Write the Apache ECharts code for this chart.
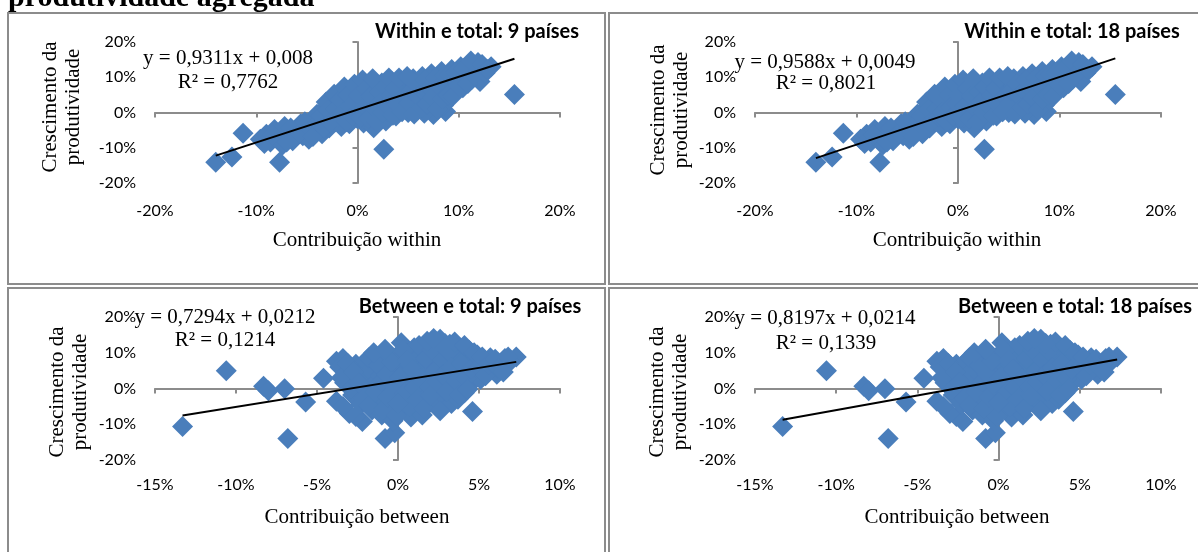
<!DOCTYPE html>
<html>
<head>
<meta charset="utf-8">
<title>Crescimento da produtividade agregada</title>
<script src="https://cdn.jsdelivr.net/npm/echarts@6.0.0/dist/echarts.min.js"></script>
<style>
  html, body { margin: 0; padding: 0; background: #ffffff; }
  #chart { width: 1198px; height: 552px; }
</style>
</head>
<body>
<div id="chart"></div>
<script>
// Country-sector observations, in percent: [contribution, productivity growth]
const within9 = [
  [-14.0,-14.1], [-12.4,-12.6], [-11.3,-5.9], [-7.7,-14.1], [2.6,-10.4], [15.5,5.1], [8.7,0.3], [7.5,-0.6],
  [-9.6,-7.6], [-9.0,-6.2], [-8.6,-8.4], [-8.2,-4.8], [-7.8,-7.0], [-7.4,-9.2], [-7.2,-4.0], [-6.8,-6.2], [-6.4,-8.0], [-6.0,-5.2],
  [-5.6,-3.2], [-5.4,-6.6], [-5.0,-4.4], [-4.8,-7.6], [-4.5,-2.2], [-4.2,-5.4], [-4.0,-0.5], [-3.7,-3.4], [-3.5,-6.0], [-3.2,1.2], [-3.0,-1.8],
  [-2.8,-4.4], [-2.6,2.8], [-2.4,0.2], [-2.2,-2.6], [-2.0,4.6], [-1.8,1.6], [-1.6,-4.0], [-1.4,5.6], [-1.2,-1.0], [-1.0,3.2], [-0.8,-3.2], [-0.6,6.6], [-0.4,1.0], [-0.2,4.4], [0.0,-1.8],
  [0.2,7.4], [0.4,2.6], [0.6,-3.0], [0.8,5.2], [1.0,0.4], [1.2,8.0], [1.4,3.2], [1.6,-4.3], [1.8,6.2], [2.0,-1.0], [2.2,1.6], [2.4,8.4], [2.6,4.4], [2.8,-2.4],
  [3.0,6.6], [3.2,1.0], [3.4,8.8], [3.6,3.4], [3.8,-1.0], [4.0,5.6], [4.3,9.0], [4.5,2.2], [4.8,7.0], [5.0,0.0], [5.2,4.4], [5.5,9.6], [5.7,1.2], [5.9,6.6],
  [6.2,3.4], [6.4,10.2], [6.6,-0.2], [6.8,7.8], [7.0,4.8], [7.3,11.0], [7.6,2.4], [7.8,8.6], [8.0,5.6], [8.3,11.6], [8.5,2.0], [8.8,9.0],
  [9.0,6.4], [9.3,12.2], [9.6,8.0], [9.9,10.6], [10.2,13.0], [10.4,7.0], [10.7,11.0], [11.0,13.6], [11.3,9.4], [11.6,12.2], [11.9,14.2], [12.1,8.8], [12.6,11.2], [13.2,13.0],
  [-9.2,-8.8], [-8.4,-6.4], [-7.0,-8.4], [-6.6,-4.4], [-6.2,-7.0], [-5.8,-5.8], [-5.2,-2.6], [-4.6,-4.8], [-4.4,-6.8], [-3.9,-2.6],
  [-3.6,-1.0], [-3.3,-4.4], [-3.1,3.0], [-2.9,0.8], [-2.7,-2.8], [-2.3,5.2], [-2.1,1.0], [-1.9,-1.2], [-1.7,3.6], [-1.5,0.0],
  [-1.3,7.2], [-1.1,-2.6], [-0.9,5.0], [-0.7,1.6], [-0.5,-1.0], [-0.3,8.0], [-0.1,2.4], [0.1,4.8], [0.3,-1.4], [0.5,9.2],
  [0.7,1.8], [0.9,6.8], [1.1,-1.8], [1.3,4.6], [1.5,9.6], [1.7,1.2], [1.9,-2.6], [2.1,5.8], [2.3,3.0], [2.5,0.0],
  [2.7,7.2], [2.9,2.2], [3.1,9.8], [3.3,4.8], [3.5,-0.8], [3.7,6.8], [3.9,2.4], [4.1,9.8], [4.4,0.2], [4.6,4.6],
  [4.9,10.2], [5.1,2.6], [5.3,6.2], [5.6,-0.4], [5.8,8.0], [6.0,4.6], [6.3,1.4], [6.5,6.0], [6.7,9.2], [6.9,2.4],
  [7.1,7.0], [7.4,4.2], [7.7,9.8], [7.9,0.8], [8.1,7.4], [8.4,3.8], [8.6,10.4], [8.9,5.0], [9.1,10.8], [9.4,4.6],
  [9.7,11.4], [10.0,7.6], [10.5,12.4], [10.9,8.2], [11.2,14.6], [11.5,10.6], [12.3,13.6], [12.8,12.2]
];
// The 18-country sample lands on the same positions at this scale
const within18 = within9.slice();

const between9 = [
  [-13.3,-10.6], [-10.6,5.0], [-8.3,0.6], [-8.0,-0.6], [-7.0,-0.1], [-6.8,-14.0], [-5.7,-3.8], [-4.6,2.9], [4.6,-6.4], [7.3,8.8],
  [-0.8,-14.0], [-0.2,-12.4], [-2.2,-9.2], [-2.6,-7.8], [-3.0,-7.0], [-3.8,-3.6], [-3.4,-5.0],
  [-3.8,7.6], [-3.4,8.4], [-3.2,5.0], [-3.3,1.6], [-3.0,3.4], [-2.8,-1.8], [-2.6,6.8], [-2.5,0.0], [-2.3,-4.4], [-2.2,3.0], [-2.0,7.6],
  [-1.9,-2.0], [-1.7,5.0], [-1.6,-6.0], [-1.5,1.2], [-1.3,8.4], [-1.2,-3.6], [-1.1,3.6], [-1.0,-7.4], [-0.9,6.2], [-0.8,0.0],
  [-0.6,9.4], [-0.5,-4.6], [-0.4,2.6], [-0.3,-9.0], [-0.2,5.6], [-0.1,-1.8], [0.0,8.0], [0.2,12.8], [0.2,-6.2], [0.3,1.0],
  [0.4,4.4], [0.5,10.0], [0.6,-3.0], [0.7,6.8], [0.8,-8.0], [0.9,2.2], [1.0,11.4], [1.1,-5.0], [1.2,8.4], [1.3,-1.0],
  [1.4,4.8], [1.5,-7.4], [1.6,10.4], [1.7,1.8], [1.8,6.6], [1.9,-3.6], [2.0,12.6], [2.1,3.4], [2.2,-0.8], [2.3,9.0],
  [2.4,-4.6], [2.5,5.6], [2.6,13.8], [2.7,1.0], [2.8,11.0], [2.9,-2.4], [3.0,7.4], [3.1,3.8], [3.2,12.4], [3.3,-4.2],
  [3.4,9.6], [3.5,0.2], [3.6,5.8], [3.7,-3.0], [3.8,11.4], [3.9,2.6], [4.0,8.2], [4.1,-1.2], [4.2,4.6], [4.4,10.6],
  [4.5,1.4], [4.6,7.0], [4.8,3.6], [4.9,9.4], [5.1,2.6], [5.3,7.0], [5.5,5.0], [5.7,8.6], [5.9,6.0], [6.1,4.0],
  [6.3,6.8], [6.6,8.4], [6.9,7.4],
  [-3.6,6.0], [-3.5,3.0], [-3.1,7.0], [-2.9,-0.2], [-2.7,4.6], [-2.4,1.6], [-2.1,-2.8], [-1.8,8.6], [-1.8,-4.8], [-1.4,-1.0],
  [-1.2,6.4], [-1.0,2.0], [-0.9,-5.8], [-0.7,4.0], [-0.6,-2.4], [-0.4,7.6], [-0.2,0.6], [-0.1,-7.6], [0.1,3.0], [0.3,10.8],
  [0.4,-1.4], [0.6,7.8], [0.7,-5.0], [0.9,5.4], [1.0,0.2], [1.2,-3.0], [1.3,12.0], [1.4,2.8], [1.6,-5.6], [1.7,8.4],
  [1.9,0.4], [2.0,-2.0], [2.1,10.8], [2.3,5.0], [2.4,1.8], [2.6,-6.2], [2.7,8.0], [2.8,3.8], [3.0,-0.8], [3.1,10.4],
  [3.3,5.8], [3.5,13.0], [3.6,2.0], [3.8,-1.8], [3.9,7.0], [4.1,12.0], [4.2,2.8], [4.3,-0.2], [4.5,5.4], [4.7,10.0],
  [5.0,6.0], [5.2,8.8], [5.4,3.6], [5.6,6.8], [6.0,8.2], [6.2,5.6], [6.5,4.6], [6.8,8.8], [-1.5,10.0], [-0.8,11.0],
  [0.0,-4.0], [1.8,13.2], [2.9,12.6], [2.2,14.0]
];
const between18 = between9.slice();

// Linear fits (fraction units) and their R²
const slopes     = [0.9311, 0.9588, 0.7294, 0.8197];
const intercepts = [0.008, 0.0049, 0.0212, 0.0214];
const rSquared   = [0.7762, 0.8021, 0.1214, 0.1339];

const panelTitles = ['Within e total: 9 países', 'Within e total: 18 países',
                     'Between e total: 9 países', 'Between e total: 18 países'];
const xTitles = ['Contribuição within', 'Contribuição within',
                 'Contribuição between', 'Contribuição between'];
const yTitle = 'Crescimento da\nprodutividade';
const header = 'produtividade agregada';

// Axis ranges (percent)
const xRanges = [[-20, 20, 10], [-20, 20, 10], [-15, 10, 5], [-15, 10, 5]];
const yRange = [-20, 20, 10];

const datasets = [within9, within18, between9, between18];

// Panel geometry
const layout = [
  { grid: { left: 155, top: 42, width: 405, height: 141 }, title: [477, 32], eq: [228, 58], r2: [228, 82], xName: [357, 240], yName: [62, 107], xMargin: 20, box: [8, 13, 597, 271] },
  { grid: { left: 755, top: 42, width: 406, height: 141 }, title: [1072, 32], eq: [825, 62], r2: [826, 83], xName: [957, 240], yName: [670, 110], xMargin: 20, box: [609, 13, 600, 271] },
  { grid: { left: 155, top: 317, width: 405, height: 143 }, title: [470, 307], eq: [225, 317], r2: [225, 340], xName: [357, 517], yName: [69, 392], xMargin: 17, box: [8, 288, 597, 270] },
  { grid: { left: 755, top: 317, width: 406, height: 143 }, title: [1075, 307], eq: [825, 318], r2: [826, 343], xName: [957, 517], yName: [669, 392], xMargin: 17, box: [609, 288, 600, 270] }
];

const AXIS_GRAY = '#8c8c8c';
const MARKER = '#4A7EBB';
const SERIF = '"Liberation Serif", "Times New Roman", serif';
const SANS = 'Lato, "Open Sans", sans-serif';

function comma(v) { return String(v).replace('.', ','); }

const grids = [], xAxes = [], yAxes = [], series = [], graphics = [];

datasets.forEach((pts, i) => {
  const L = layout[i];
  const [xmin, xmax, xint] = xRanges[i];
  grids.push(Object.assign({}, L.grid));

  // axis drawn through zero with its ticks
  xAxes.push({
    gridIndex: i, type: 'value', min: xmin, max: xmax, interval: xint, position: 'bottom',
    axisLine: { show: true, onZero: true, lineStyle: { color: AXIS_GRAY, width: 2 } },
    axisTick: { show: true, length: 5, lineStyle: { color: AXIS_GRAY, width: 2 } },
    axisLabel: { show: false }, splitLine: { show: false }
  });
  // tick labels along the bottom edge
  xAxes.push({
    gridIndex: i, type: 'value', min: xmin, max: xmax, interval: xint, position: 'bottom',
    axisLine: { show: false, onZero: false }, axisTick: { show: false }, splitLine: { show: false },
    axisLabel: { formatter: '{value}%', margin: L.xMargin, fontFamily: SANS, fontSize: 16, color: '#000' }
  });
  yAxes.push({
    gridIndex: i, type: 'value', min: yRange[0], max: yRange[1], interval: yRange[2], position: 'left',
    axisLine: { show: true, onZero: true, lineStyle: { color: AXIS_GRAY, width: 2 } },
    axisTick: { show: true, length: 5, lineStyle: { color: AXIS_GRAY, width: 2 } },
    axisLabel: { show: false }, splitLine: { show: false }
  });
  yAxes.push({
    gridIndex: i, type: 'value', min: yRange[0], max: yRange[1], interval: yRange[2], position: 'left',
    axisLine: { show: false, onZero: false }, axisTick: { show: false }, splitLine: { show: false },
    axisLabel: { formatter: '{value}%', margin: 19, fontFamily: SANS, fontSize: 16, color: '#000' }
  });

  series.push({
    type: 'scatter', xAxisIndex: 2 * i, yAxisIndex: 2 * i, data: pts,
    symbol: 'diamond', symbolSize: 21, itemStyle: { color: MARKER, opacity: 1 }, z: 2
  });

  // trend line over the data's x extent
  const xs = pts.map(p => p[0]);
  const x0 = Math.min.apply(null, xs), x1 = Math.max.apply(null, xs);
  const fit = x => slopes[i] * x + intercepts[i] * 100;
  series.push({
    type: 'line', xAxisIndex: 2 * i, yAxisIndex: 2 * i, data: [[x0, fit(x0)], [x1, fit(x1)]],
    symbol: 'none', lineStyle: { color: '#000', width: 2 }, z: 3, silent: true
  });

  // panel frame
  graphics.push({
    type: 'rect', shape: { x: L.box[0], y: L.box[1], width: L.box[2], height: L.box[3] },
    style: { fill: 'none', stroke: AXIS_GRAY, lineWidth: 2 }, z: 0, silent: true
  });
  graphics.push({
    type: 'text', x: L.title[0], y: L.title[1], z: 10,
    style: { text: panelTitles[i], font: 'bold 20px ' + SANS, fill: '#000', align: 'center', verticalAlign: 'middle' }
  });
  graphics.push({
    type: 'text', x: L.eq[0], y: L.eq[1], z: 10,
    style: { text: 'y = ' + comma(slopes[i]) + 'x + ' + comma(intercepts[i]), font: '21px ' + SERIF, fill: '#000', align: 'center', verticalAlign: 'middle' }
  });
  graphics.push({
    type: 'text', x: L.r2[0], y: L.r2[1], z: 10,
    style: { text: 'R² = ' + comma(rSquared[i]), font: '21px ' + SERIF, fill: '#000', align: 'center', verticalAlign: 'middle' }
  });
  graphics.push({
    type: 'text', x: L.xName[0], y: L.xName[1], z: 10,
    style: { text: xTitles[i], font: '21px ' + SERIF, fill: '#000', align: 'center', verticalAlign: 'middle' }
  });
  graphics.push({
    type: 'text', x: L.yName[0], y: L.yName[1], rotation: Math.PI / 2, z: 10,
    style: { text: yTitle, font: '21px ' + SERIF, lineHeight: 23, fill: '#000', align: 'center', verticalAlign: 'middle' }
  });
});

graphics.push({
  type: 'text', x: 8, y: -2, z: 10,
  style: { text: header, font: 'bold 30px ' + SERIF, fill: '#000', align: 'left', verticalAlign: 'middle' }
});

const chart = echarts.init(document.getElementById('chart'), null, { renderer: 'canvas' });
chart.setOption({
  animation: false,
  backgroundColor: '#ffffff',
  grid: grids,
  xAxis: xAxes,
  yAxis: yAxes,
  series: series,
  graphic: graphics
});
</script>
</body>
</html>
